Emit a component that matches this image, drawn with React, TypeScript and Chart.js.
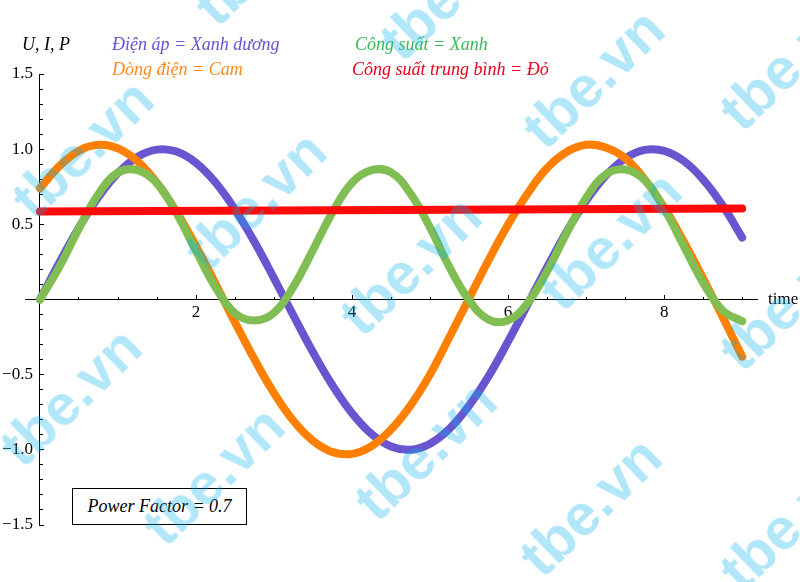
import React, { useEffect, useRef } from 'react';
import { Chart, registerables } from 'chart.js';

Chart.register(...registerables);

// ---- data ----
const TIME = [0, 0.25, 0.5, 0.75, 1, 1.25, 1.5, 1.75, 2, 2.25, 2.5, 2.75, 3, 3.25, 3.5, 3.75, 4, 4.25, 4.5, 4.75, 5, 5.25, 5.5, 5.75, 6, 6.25, 6.5, 6.75, 7, 7.25, 7.5, 7.75, 8, 8.25, 8.5, 8.75, 9];
const VOLTAGE = [0, 0.247, 0.479, 0.682, 0.841, 0.949, 0.997, 0.984, 0.909, 0.778, 0.598, 0.382, 0.141, -0.108, -0.351, -0.572, -0.757, -0.895, -0.978, -0.999, -0.959, -0.859, -0.706, -0.51, -0.279, -0.033, 0.215, 0.451, 0.657, 0.823, 0.938, 0.995, 0.989, 0.922, 0.798, 0.625, 0.412];
const CURRENT = [0.74, 0.888, 0.99, 1.029, 1.005, 0.919, 0.775, 0.583, 0.355, 0.104, -0.152, -0.399, -0.623, -0.808, -0.94, -1.015, -1.027, -0.975, -0.865, -0.704, -0.498, -0.248, 0.007, 0.262, 0.499, 0.705, 0.874, 0.981, 1.029, 1.011, 0.94, 0.799, 0.612, 0.386, 0.139, -0.116, -0.38];
const POWER = [0, 0.219, 0.474, 0.702, 0.845, 0.86, 0.773, 0.574, 0.323, 0.081, -0.091, -0.14, -0.088, 0.087, 0.33, 0.581, 0.777, 0.86, 0.846, 0.703, 0.478, 0.213, -0.005, -0.134, -0.139, -0.023, 0.188, 0.442, 0.676, 0.832, 0.865, 0.795, 0.605, 0.356, 0.111, -0.073, -0.145];
const AVG_TIME = [0, 9];
const AVG_POWER = [0.585, 0.605];

const X_MAJOR = [2, 4, 6, 8];
const X_MINOR = [0.5, 1, 1.5, 2.5, 3, 3.5, 4.5, 5, 5.5, 6.5, 7, 7.5, 8.5, 9];
const Y_MAJOR = [-1.5, -1, -0.5, 0.5, 1, 1.5];
const Y_MINOR = [-1.4, -1.3, -1.2, -1.1, -0.9, -0.8, -0.7, -0.6, -0.4, -0.3, -0.2, -0.1, 0.1, 0.2, 0.3, 0.4, 0.6, 0.7, 0.8, 0.9, 1.1, 1.2, 1.3, 1.4];

const X_MIN = -0.192;
const X_MAX = 9.19;
const Y_MIN = -1.5;
const Y_MAX = 1.5;

const SERIF = "'Liberation Serif', 'Times New Roman', serif";

const WATERMARKS: Array<[number, number]> = [
  [82, 148], [255, 200], [450, -10], [593, 78], [790, 60], [265, -45],
  [70, 396], [213, 475], [410, 265], [610, 240], [790, 300],
  [425, 450], [590, 506], [790, 520],
];

const fmtY = (v: number) => (v < 0 ? '\u2212' + Math.abs(v).toFixed(1) : v.toFixed(1));

Chart.defaults.font.family = SERIF;
Chart.defaults.font.size = 17;
Chart.defaults.color = '#000';

export default function App() {
  const ref = useRef<HTMLCanvasElement | null>(null);

  useEffect(() => {
    if (!ref.current) return;
    const pts = (xs: number[], ys: number[]) => xs.map((x, i) => ({ x, y: ys[i] }));
    const tickFont = { family: SERIF, size: 17 };
    const chart = new Chart(ref.current, {
      type: 'line',
      data: {
        datasets: [
          { label: 'Công suất trung bình', data: pts(AVG_TIME, AVG_POWER), borderColor: '#ff0a0a', tension: 0 },
          { label: 'Công suất', data: pts(TIME, POWER), borderColor: '#80bd52' },
          { label: 'Dòng điện', data: pts(TIME, CURRENT), borderColor: '#ff7f00' },
          { label: 'Điện áp', data: pts(TIME, VOLTAGE), borderColor: '#6a55d0' },
        ],
      },
      options: {
        responsive: false,
        animation: false,
        devicePixelRatio: 1,
        layout: { padding: { left: 25, right: 43, top: 74, bottom: 57 } },
        plugins: { legend: { display: false }, tooltip: { enabled: false } },
        elements: {
          point: { radius: 0 },
          line: { tension: 0.4, borderWidth: 8, borderCapStyle: 'round', borderJoinStyle: 'round', fill: false },
        },
        scales: {
          x: {
            type: 'linear', min: X_MIN, max: X_MAX, position: { y: 0 },
            afterBuildTicks: (s: any) => { s.ticks = X_MAJOR.map((v) => ({ value: v })); },
            ticks: { display: false, autoSkip: false },
            grid: { drawOnChartArea: false, tickLength: -5, tickColor: '#000', tickWidth: 1 },
            border: { color: '#000', width: 1 },
          },
          xMinor: {
            type: 'linear', axis: 'x', min: X_MIN, max: X_MAX, position: { y: 0 },
            afterBuildTicks: (s: any) => { s.ticks = X_MINOR.map((v) => ({ value: v })); },
            ticks: { display: false, autoSkip: false },
            grid: { drawOnChartArea: false, tickLength: -3, tickColor: '#000', tickWidth: 1 },
            border: { display: false },
          },
          xLabel: {
            type: 'linear', axis: 'x', min: X_MIN, max: X_MAX, position: { y: 0 },
            afterBuildTicks: (s: any) => { s.ticks = X_MAJOR.map((v) => ({ value: v })); },
            ticks: { autoSkip: false, maxRotation: 0, padding: 3, color: '#000', font: tickFont, callback: (v: any) => String(v) },
            grid: { display: false, drawTicks: false },
            border: { display: false },
          },
          y: {
            type: 'linear', min: Y_MIN, max: Y_MAX, position: { x: 0 },
            afterBuildTicks: (s: any) => { s.ticks = Y_MAJOR.map((v) => ({ value: v })); },
            ticks: { display: false, autoSkip: false },
            grid: { drawOnChartArea: false, tickLength: -5, tickColor: '#000', tickWidth: 1 },
            border: { color: '#000', width: 1 },
          },
          yMinor: {
            type: 'linear', axis: 'y', min: Y_MIN, max: Y_MAX, position: { x: 0 },
            afterBuildTicks: (s: any) => { s.ticks = Y_MINOR.map((v) => ({ value: v })); },
            ticks: { display: false, autoSkip: false },
            grid: { drawOnChartArea: false, tickLength: -3, tickColor: '#000', tickWidth: 1 },
            border: { display: false },
          },
          yLabel: {
            type: 'linear', axis: 'y', min: Y_MIN, max: Y_MAX, position: { x: -0.09 },
            afterBuildTicks: (s: any) => { s.ticks = Y_MAJOR.map((v) => ({ value: v })); },
            ticks: { autoSkip: false, padding: 0, color: '#000', font: tickFont, callback: (v: any) => fmtY(Number(v)) },
            grid: { display: false, drawTicks: false },
            border: { display: false },
          },
        },
      } as any,
    });
    let alive = true;
    if ((document as any).fonts && (document as any).fonts.load) {
      (document as any).fonts.load("17px 'Liberation Serif'").then(() => { if (alive) chart.update(); }).catch(() => {});
    }
    return () => { alive = false; chart.destroy(); };
  }, []);

  const txt = (left: number, baseline: number, color: string, content: string, italic = true, size = 18) => (
    <div
      style={{
        position: 'absolute', left, top: baseline - Math.round(size * 0.84), fontFamily: SERIF,
        fontStyle: italic ? 'italic' : 'normal', fontSize: size, lineHeight: `${size}px`, color, whiteSpace: 'nowrap',
      }}
    >
      {content}
    </div>
  );

  return (
    <div style={{ position: 'absolute', left: 0, top: 0, width: 800, height: 582, overflow: 'hidden', background: '#fff' }}>
      <canvas ref={ref} width={800} height={582} style={{ position: 'absolute', left: 0, top: 0, width: 800, height: 582 }} />
      {txt(22, 50, '#000', 'U, I, P')}
      {txt(112, 50, '#6a50d6', 'Điện áp = Xanh dương')}
      {txt(112, 75, '#ff8a1c', 'Dòng điện = Cam')}
      {txt(355, 50, '#3cb95a', 'Công suất = Xanh')}
      {txt(352, 75, '#e8001e', 'Công suất trung bình = Đỏ')}
      {txt(768, 304, '#000', 'time', false, 17)}
      <div
        style={{
          position: 'absolute', left: 72, top: 488, width: 175, height: 37, boxSizing: 'border-box',
          border: '1.5px solid #000', background: '#fff', display: 'flex', alignItems: 'center', justifyContent: 'center',
          fontFamily: SERIF, fontStyle: 'italic', fontSize: 18, color: '#000', whiteSpace: 'nowrap',
        }}
      >
        Power Factor = 0.7
      </div>
      {WATERMARKS.map(([cx, cy], i) => (
        <div
          key={i}
          style={{
            position: 'absolute', left: cx, top: cy, transform: 'translate(-50%, -50%) rotate(-44deg)',
            fontFamily: "'Liberation Sans', Arial, sans-serif", fontWeight: 'bold', fontSize: 58, lineHeight: '58px',
            color: 'rgba(0, 175, 238, 0.3)', whiteSpace: 'nowrap', pointerEvents: 'none',
          }}
        >
          tbe.vn
        </div>
      ))}
    </div>
  );
}
